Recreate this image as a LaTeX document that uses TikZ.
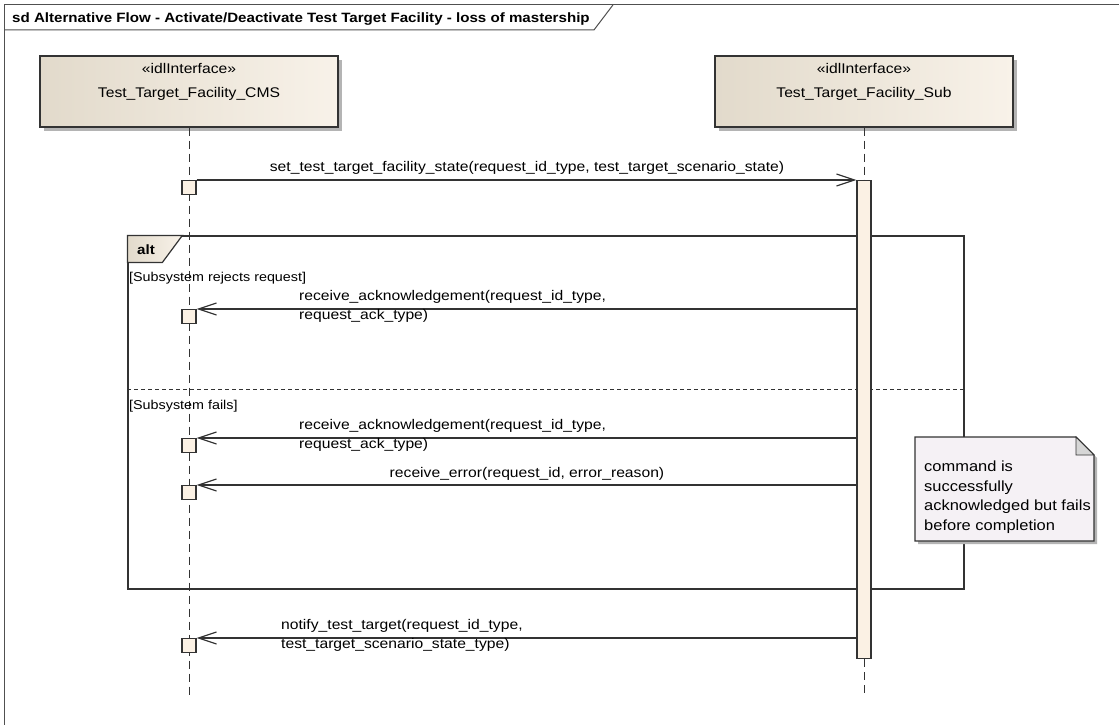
\documentclass[tikz,border=0pt]{standalone}
\usepackage{fontspec}
\setmainfont{Liberation Sans}[FakeStretch=1.12]
\usetikzlibrary{arrows.meta,calc,shadows}
\definecolor{lc}{HTML}{333333}
\definecolor{hdL}{HTML}{E2DACB}
\definecolor{hdR}{HTML}{F8F2E9}
\definecolor{actfill}{HTML}{FBF1E4}
\definecolor{notefill}{HTML}{F5F1F5}
\definecolor{shd}{HTML}{B4B4B4}
\definecolor{foldc}{HTML}{D6D6D6}
\definecolor{framec}{HTML}{505050}
\begin{document}
\begin{tikzpicture}[x=1pt,y=-1pt,
  txt/.style={font=\fontsize{14}{19}\selectfont, inner sep=0pt, text=black},
  gtxt/.style={font=\fontsize{12.8}{16}\selectfont, inner sep=0pt, text=black},
  btxt/.style={font=\bfseries\fontsize{13.5}{17}\selectfont, inner sep=0pt, text=black},
  head/.style={draw=lc, line width=1.3pt, left color=hdL, right color=hdR,
    minimum width=298pt, minimum height=71pt, inner sep=0pt,
    drop shadow={shadow xshift=4pt, shadow yshift=-4pt, fill=shd, opacity=1}},
  life/.style={draw=lc, line width=1pt, dash pattern=on 8pt off 5pt},
  actbar/.style={draw=lc, line width=1.2pt, fill=actfill, minimum width=14pt,
    minimum height=478pt, inner sep=0pt, anchor=north},
  sq/.style={draw=lc, line width=1.2pt, fill=actfill, minimum size=14pt, inner sep=0pt, anchor=north},
  msg/.style={draw=lc, line width=1.2pt, -{Straight Barb[length=18pt,width=12pt,line width=1.2pt]}},
  frm/.style={draw=framec, line width=1pt},
  divl/.style={draw=lc, line width=1pt, dash pattern=on 4pt off 3pt},
]
\useasboundingbox[fill=white] (0,0) rectangle (1119,725);

% frame
\node[btxt, anchor=base west] (title) at (12,23) {sd Alternative Flow - Activate/Deactivate Test Target Facility - loss of mastership};
\draw[frm] (4,725) -- (4,5) -- (1119,5);
\draw[frm] let \p1=(title.east) in (4,30) -- (\x1+4pt,30) -- (\x1+23pt,5);

% lifeline heads
\node[head] (cms) at (189,91.5) {};
\node[head] (sub) at (864,91.5) {};
\node[txt, anchor=base] (cmsst) at (189,74) {«idlInterface»};
\node[txt, anchor=base] (cmsnm) at (189,97) {Test\_Target\_Facility\_CMS};
\node[txt, anchor=base] (subst) at (864,74) {«idlInterface»};
\node[txt, anchor=base] (subnm) at (864,97) {Test\_Target\_Facility\_Sub};

% lifelines
\coordinate (cmsEnd) at (189,698);
\coordinate (subEnd) at (864,698);
\draw[life] (cms.south) -- (cmsEnd);

% alt fragment
\node[draw=lc, line width=1.2pt, minimum width=836pt, minimum height=353pt, inner sep=0pt] (alt) at (546,412.5) {};
\draw[draw=lc, line width=1.2pt, left color=hdL, right color=hdR]
  (alt.north west) -- ++(55,0) -- ++(-20,27) -- ++(-35,0) -- cycle;
\node[btxt, anchor=base west] (altlbl) at (137,254) {alt};
\coordinate (dv) at (546,389);
\draw[divl] (alt.west |- dv) -- (alt.east |- dv);
\node[gtxt, anchor=base west] (g1) at (129,281) {[Subsystem rejects request]};
\node[gtxt, anchor=base west] (g2) at (129,409) {[Subsystem fails]};

% activation bar on Sub
\node[actbar] (bar) at (864,180) {};
\draw[life] (sub.south) -- (bar.north);
\draw[life] (bar.south) -- (subEnd);

% execution squares on CMS
\node[sq] (s1) at (189,180) {};
\node[sq] (s2) at (189,309) {};
\node[sq] (s3) at (189,438) {};
\node[sq] (s4) at (189,485) {};
\node[sq] (s5) at (189,638) {};

% messages
\draw[msg] (s1.north east) -- (s1.north east -| bar.west);
\draw[msg] (s2.north east -| bar.west) -- (s2.north east);
\draw[msg] (s3.north east -| bar.west) -- (s3.north east);
\draw[msg] (s4.north east -| bar.west) -- (s4.north east);
\draw[msg] (s5.north east -| bar.west) -- (s5.north east);

\node[txt, anchor=base] (m1) at (527,171) {set\_test\_target\_facility\_state(request\_id\_type, test\_target\_scenario\_state)};
\node[txt, anchor=north west, align=left] (m2) at (299,290) {receive\_acknowledgement(request\_id\_type,\\request\_ack\_type)};
\node[txt, anchor=north west, align=left] (m3) at (299,419) {receive\_acknowledgement(request\_id\_type,\\request\_ack\_type)};
\node[txt, anchor=base] (m4) at (527,477) {receive\_error(request\_id, error\_reason)};
\node[txt, anchor=north west, align=left] (m5) at (281,619) {notify\_test\_target(request\_id\_type,\\test\_target\_scenario\_state\_type)};

% note
\fill[shd] (918,440) -- (1079,440) -- (1097,458) -- (1097,544) -- (918,544) -- cycle;
\filldraw[fill=notefill, draw=lc, line width=1.2pt] (915,437) -- (1076,437) -- (1094,455) -- (1094,541) -- (915,541) -- cycle;
\filldraw[fill=foldc, draw=lc, line width=0.8pt] (1076,437) -- (1094,455) -- (1076,455) -- cycle;
\node[font=\fontsize{14.7}{19.5}\selectfont, inner sep=0pt, anchor=north west, align=left] (note) at (924,461) {command is\\successfully\\acknowledged but fails\\before completion};
\end{tikzpicture}
\end{document}
